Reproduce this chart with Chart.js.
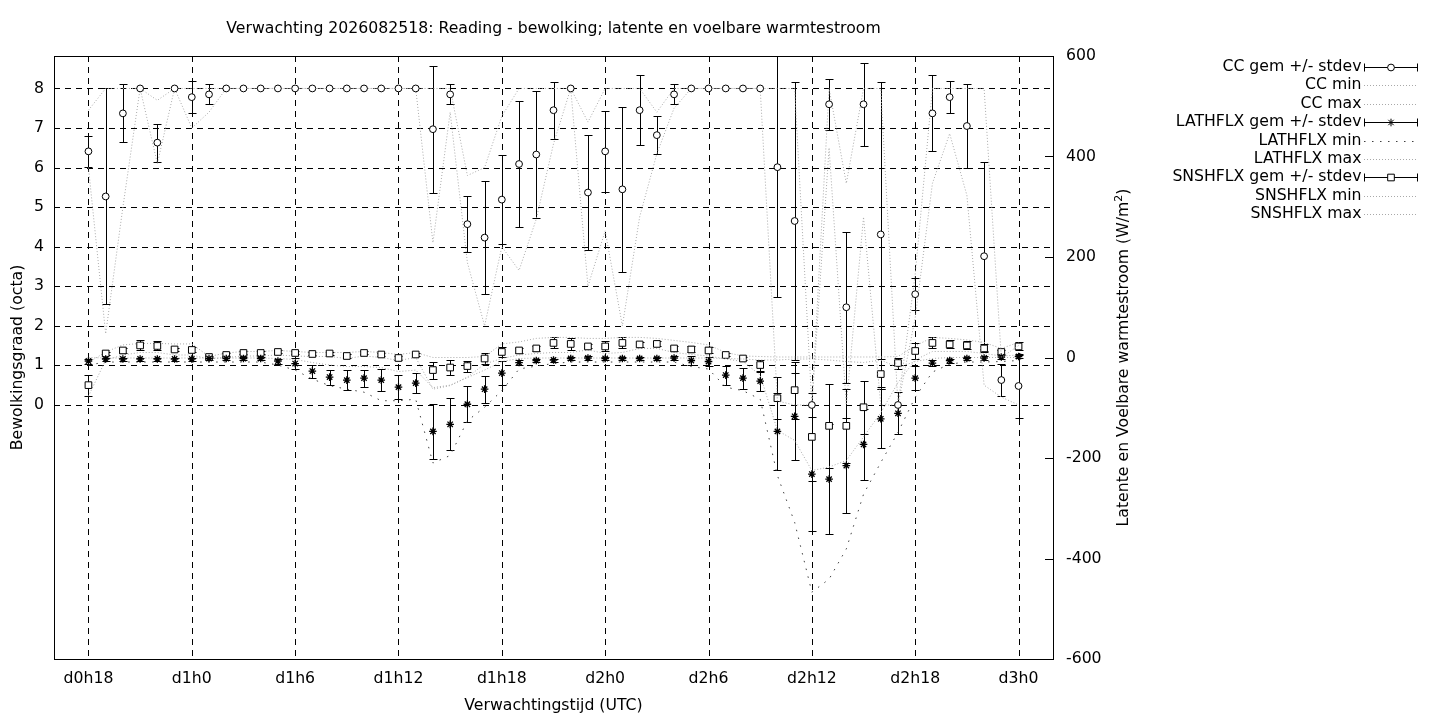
<!DOCTYPE html>
<html>
<head>
<meta charset="utf-8">
<script src="https://cdn.jsdelivr.net/npm/chart.js@4"></script>
<style>
html,body{margin:0;padding:0;background:#fff;}
canvas{display:block;}
</style>
</head>
<body>
<canvas id="c" width="1440" height="720"></canvas>
<script>
// ---------- data ----------
const hours = [18,19,20,21,22,23,24,25,26,27,28,29,30,31,32,33,34,35,36,37,38,39,40,41,42,43,44,45,46,47,48,49,50,51,52,53,54,55,56,57,58,59,60,61,62,63,64,65,66,67,68,69,70,71,72];
const tickHours = [18,24,30,36,42,48,54,60,66,72];
const tickLabels = ['d0h18','d1h0','d1h6','d1h12','d1h18','d2h0','d2h6','d2h12','d2h18','d3h0'];
const leftTicks = [0,1,2,3,4,5,6,7,8];
const rightTicks = [-600,-400,-200,0,200,400,600];

const ccMean = [6.41,5.27,7.37,8,6.63,8,7.78,7.85,
  8,8,8,8,8,8,8,8,8,8,8,8,
  6.97,7.85,4.57,4.23,5.19,6.09,6.33,7.45,
  8,5.37,6.41,5.45,7.45,6.82,7.85,
  8,8,8,8,8,
  6.01,4.65,0,7.60,2.47,7.60,4.31,0,2.80,7.37,7.78,7.05,3.76,0.63,0.48];
const ccSd = [0.4,2.73,0.73,0,0.48,0,0.4,0.25,
  0,0,0,0,0,0,0,0,0,0,0,0,
  1.6,0.25,0.71,1.43,1.12,1.6,1.6,0.72,
  0,1.45,1.03,2.08,0.88,0.48,0.25,
  0,0,0,0,0,
  3.29,3.52,0,0.64,1.91,1.05,3.86,0,0.4,0.96,0.4,1.05,2.39,0.4,0.82];
const ccMin = [6.0,1.8,5.0,8,6.1,8,7.0,7.4,
  8,8,8,8,8,8,8,8,8,8,8,8,
  4.1,7.4,3.6,2.0,4.0,3.4,4.7,6.6,
  8,3.0,4.4,2.0,4.75,6.35,7.5,
  8,8,8,8,8,
  0.1,0,0,6.5,0,4.75,0,0,2.2,5.6,6.86,5.3,0.5,0.2,0];
const ccMax = [7.45,8,8,8,7.7,8,8,8,
  8,8,8,8,8,8,8,8,8,8,8,8,
  8,8,5.8,6.0,7.3,8,8,8,
  8,7.15,8,8,8,7.4,8,
  8,8,8,8,8,
  8,8,0,8,5.6,8,8,0,3.3,8,8,8,8,1.2,1.5];

const lhMean = [-7,-3,-3,-3,-3,-3,-3,-2,
  -2,-2,-2,-7,-12,-27,-39,-45,-41,-45,-59,-51,
  -147,-133,-93,-63,-31,-10,-6,-5,
  -2,-1,-2,-2,-2,-2,-1,
  -6,-8,-35,-41,-47,
  -147,-117,-232,-242,-215,-173,-122,-111,-41,-11,-6,-2,-1,1,2];
const lhSd = [5,3,3,3,3,3,3,3,
  3,3,3,5,11,13,15,20,17,22,24,20,
  55,52,36,27,24,5,3,3,
  3,3,3,3,3,3,3,
  8,9,19,21,19,
  77,86,113,110,94,70,59,42,24,6,4,3,3,3,3];
const lhMin = [-15,-9,-9,-9,-9,-9,-9,-9,
  -9,-9,-9,-15,-25,-43,-56,-63,-69,-86,-86,-83,
  -210,-195,-126,-99,-66,-23,-17,-12,
  -9,-9,-9,-9,-9,-9,-9,
  -18,-23,-59,-66,-83,
  -235,-328,-467,-441,-381,-272,-209,-149,-79,-29,-13,-9,-9,-8,-6];
const lhMax = [0,-1,-1,-1,-1,-1,-1,-1,
  -1,-1,-1,-2,-4,-10,-15,-18,-18,-20,-28,-25,
  -60,-55,-40,-25,-8,-2,-1,-1,
  -1,-1,-1,-1,-1,-1,-1,
  -1,-1,-2,-3,-5,
  -5,-3,-3,-5,-8,-10,-5,-20,-8,-2,0,0,0,0,0];

const shMean = [-55,8,14,24,23,16,15,1,
  5,9,9,11,9,7,8,3,9,6,-1,6,
  -25,-20,-17,-2,11,14,18,29,
  27,22,22,29,26,27,18,
  16,14,5,-2,-15,
  -81,-65,-158,-136,-136,-99,-33,-11,13,29,26,24,18,11,22];
const shSd = [21,3,5,10,9,3,5,2,
  3,3,3,3,3,3,3,3,3,3,3,3,
  17,15,11,10,10,5,5,11,
  12,4,10,11,5,5,5,
  6,6,3,3,11,
  42,57,88,83,73,53,30,11,15,11,8,8,8,4,8];
const shMin = [-77,-5,5,10,10,5,5,-3,
  0,3,3,5,3,2,2,-2,3,0,-6,0,
  -63,-56,-39,-13,-2,5,8,10,
  10,15,8,10,18,18,10,
  6,3,-3,-8,-35,
  -145,-165,-225,-218,-205,-158,-110,-50,-5,12,12,12,8,3,5];
const shMax = [-10,11,25,28,28,27,27,2,
  9,12,12,14,12,10,10,10,12,10,6,10,
  0,0,0,2,27,31,38,40,
  40,38,38,40,40,38,34,
  30,25,10,3,2,
  1,1,1,1,1,1,1,2,23,40,38,35,30,18,30];

const legendLabels = ['CC gem +/- stdev','CC min','CC max',
  'LATHFLX gem +/- stdev','LATHFLX min','LATHFLX max',
  'SNSHFLX gem +/- stdev','SNSHFLX min','SNSHFLX max'];
const titleText = 'Verwachting 2026082518: Reading - bewolking; latente en voelbare warmtestroom';
const xTitle = 'Verwachtingstijd (UTC)';
const yTitle = 'Bewolkingsgraad (octa)';
const y2Title = 'Latente en Voelbare warmtestroom (W/m';
const y2Sup = '2';

// ---------- style ----------
const FONT_PX = 15.7;
const FAMILY = '"DejaVu Sans", sans-serif';
const FONT = FONT_PX + 'px ' + FAMILY;
Chart.defaults.font.family = FAMILY;
Chart.defaults.font.size = FONT_PX;
Chart.defaults.color = '#000';

const GRAY = '#a9a9a9';
const DARK = '#404040';
const dotFine = [1, 2];
const dotSparse = [1.5, 6.5];

function series(arr){ return hours.map((h,i)=>({x:h, y:arr[i]})); }

function meanSet(label, arr, sd, axis, style, r, bw){
  return {label, data: series(arr), sd, yAxisID: axis, showLine:false,
    pointStyle: style, pointRadius: r, pointHoverRadius: r,
    pointBackgroundColor:'#fff', pointBorderColor:'#000', pointBorderWidth: bw,
    borderColor:'#000', backgroundColor:'#fff'};
}
function lineSet(label, arr, axis, color, dash){
  return {label, data: series(arr), yAxisID: axis, borderColor: color, borderWidth: 1,
    borderDash: dash, pointRadius: 0, fill:false, tension:0};
}

const datasets = [
  meanSet(legendLabels[0], ccMean, ccSd, 'y', 'circle', 3.4, 1),
  lineSet(legendLabels[1], ccMin, 'y', GRAY, dotFine),
  lineSet(legendLabels[2], ccMax, 'y', GRAY, dotFine),
  meanSet(legendLabels[3], lhMean, lhSd, 'y2', 'star', 3.8, 1.3),
  lineSet(legendLabels[4], lhMin, 'y2', DARK, dotSparse),
  lineSet(legendLabels[5], lhMax, 'y2', GRAY, dotFine),
  meanSet(legendLabels[6], shMean, shSd, 'y2', 'rect', 4.7, 1),
  lineSet(legendLabels[7], shMin, 'y2', GRAY, dotFine),
  lineSet(legendLabels[8], shMax, 'y2', GRAY, dotFine)
];

const CAP = 4;
const gp = {
  id: 'gp',
  beforeDatasetsDraw(chart){
    const {ctx, chartArea: a, scales} = chart;
    ctx.save();
    ctx.strokeStyle = '#000';
    ctx.lineWidth = 1;
    ctx.setLineDash([6, 5]);
    tickHours.forEach(h => {
      const x = Math.round(scales.x.getPixelForValue(h)) + 0.5;
      ctx.beginPath(); ctx.moveTo(x, a.top); ctx.lineTo(x, a.bottom); ctx.stroke();
    });
    leftTicks.forEach(v => {
      const y = Math.round(scales.y.getPixelForValue(v)) + 0.5;
      ctx.beginPath(); ctx.moveTo(a.left, y); ctx.lineTo(a.right, y); ctx.stroke();
    });
    ctx.setLineDash([]);
    // error bars
    ctx.beginPath(); ctx.rect(a.left, a.top, a.right - a.left, a.bottom - a.top); ctx.clip();
    chart.data.datasets.forEach(ds => {
      if (!ds.sd) return;
      const ys = scales[ds.yAxisID];
      ds.data.forEach((p, i) => {
        const s = ds.sd[i];
        if (!s) return;
        const x = Math.round(scales.x.getPixelForValue(p.x)) + 0.5;
        const y1 = Math.round(ys.getPixelForValue(p.y + s)) + 0.5;
        const y2 = Math.round(ys.getPixelForValue(p.y - s)) + 0.5;
        ctx.beginPath();
        ctx.moveTo(x, y1); ctx.lineTo(x, y2);
        ctx.moveTo(x - CAP, y1); ctx.lineTo(x + CAP, y1);
        ctx.moveTo(x - CAP, y2); ctx.lineTo(x + CAP, y2);
        ctx.stroke();
      });
    });
    ctx.restore();
  },
  afterDraw(chart){
    const {ctx, chartArea: a, scales} = chart;
    ctx.save();
    // border
    ctx.strokeStyle = '#000'; ctx.lineWidth = 1; ctx.setLineDash([]);
    ctx.strokeRect(a.left + 0.5, a.top + 0.5, a.right - a.left, a.bottom - a.top);
    // y2 tick marks (inward)
    rightTicks.forEach(v => {
      const y = Math.round(scales.y2.getPixelForValue(v)) + 0.5;
      ctx.beginPath(); ctx.moveTo(a.right + 0.5, y); ctx.lineTo(a.right - 8, y); ctx.stroke();
    });
    // titles
    ctx.fillStyle = '#000';
    ctx.font = FONT;
    ctx.textAlign = 'center'; ctx.textBaseline = 'middle';
    const cx = (a.left + a.right) / 2, cy = (a.top + a.bottom) / 2;
    ctx.fillText(titleText, cx, 29);
    ctx.fillText(xTitle, cx, 706);
    ctx.save(); ctx.translate(18, cy); ctx.rotate(-Math.PI / 2); ctx.fillText(yTitle, 0, 0); ctx.restore();
    // right title with superscript
    ctx.save(); ctx.translate(1124, cy); ctx.rotate(-Math.PI / 2);
    ctx.font = FONT;
    const w1 = ctx.measureText(y2Title).width;
    ctx.font = '11px ' + FAMILY;
    const w2 = ctx.measureText(y2Sup).width;
    ctx.font = FONT;
    const w3 = ctx.measureText(')').width;
    let sx = -(w1 + w2 + w3) / 2;
    ctx.textAlign = 'left';
    ctx.fillText(y2Title, sx, 0);
    ctx.font = '11px ' + FAMILY; ctx.fillText(y2Sup, sx + w1, -5);
    ctx.font = FONT; ctx.fillText(')', sx + w1 + w2, 0);
    ctx.restore();
    // legend
    const TX = 1361.5, L0 = 1364, L1 = 1418, Y0 = 66.7, DY = 18.45;
    ctx.font = FONT; ctx.textAlign = 'right'; ctx.textBaseline = 'middle';
    chart.data.datasets.forEach((ds, i) => {
      const y = Y0 + i * DY;
      ctx.fillStyle = '#000';
      ctx.fillText(ds.label, TX, y);
      const yy = Math.round(y) + 0.5;
      if (ds.sd) {
        ctx.strokeStyle = '#000'; ctx.lineWidth = 1; ctx.setLineDash([]);
        ctx.beginPath();
        ctx.moveTo(L0, yy); ctx.lineTo(L1, yy);
        ctx.moveTo(L0 + 0.5, yy - CAP); ctx.lineTo(L0 + 0.5, yy + CAP);
        ctx.moveTo(L1 - 0.5, yy - CAP); ctx.lineTo(L1 - 0.5, yy + CAP);
        ctx.stroke();
        ctx.fillStyle = '#fff'; ctx.strokeStyle = '#000';
        Chart.helpers.drawPoint(ctx, {pointStyle: ds.pointStyle, radius: ds.pointRadius, borderWidth: ds.pointBorderWidth, rotation: 0}, (L0 + L1) / 2, yy);
      } else {
        ctx.strokeStyle = ds.borderColor; ctx.lineWidth = 1; ctx.setLineDash(ds.borderDash);
        ctx.beginPath(); ctx.moveTo(L0, yy); ctx.lineTo(L1, yy); ctx.stroke();
        ctx.setLineDash([]);
      }
    });
    ctx.restore();
  }
};

new Chart(document.getElementById('c'), {
  type: 'line',
  data: { datasets },
  options: {
    responsive: false,
    animation: false,
    devicePixelRatio: 1,
    events: [],
    layout: { padding: { top: 56, left: 0, right: 0, bottom: 0 } },
    plugins: { legend: { display: false }, tooltip: { enabled: false }, title: { display: false } },
    scales: {
      x: {
        type: 'linear', min: 16, max: 74,
        grid: { display: false, drawTicks: false },
        border: { display: false },
        afterBuildTicks: s => { s.ticks = tickHours.map(v => ({value: v})); },
        afterFit: s => { s.height = 61; },
        ticks: { autoSkip: false, maxRotation: 0, padding: 11, color: '#000',
          callback: v => tickLabels[tickHours.indexOf(v)] }
      },
      y: {
        type: 'linear', position: 'left', min: -6.42, max: 8.82,
        grid: { display: false, drawTicks: false },
        border: { display: false },
        afterBuildTicks: s => { s.ticks = leftTicks.map(v => ({value: v})); },
        afterFit: s => { s.width = 54; },
        ticks: { padding: 10, color: '#000' }
      },
      y2: {
        type: 'linear', position: 'right', min: -600, max: 600,
        grid: { display: false, drawTicks: false },
        border: { display: false },
        afterBuildTicks: s => { s.ticks = rightTicks.map(v => ({value: v})); },
        afterFit: s => { s.width = 387; },
        ticks: { padding: 13, color: '#000' }
      }
    }
  },
  plugins: [gp]
});
</script>
</body>
</html>
